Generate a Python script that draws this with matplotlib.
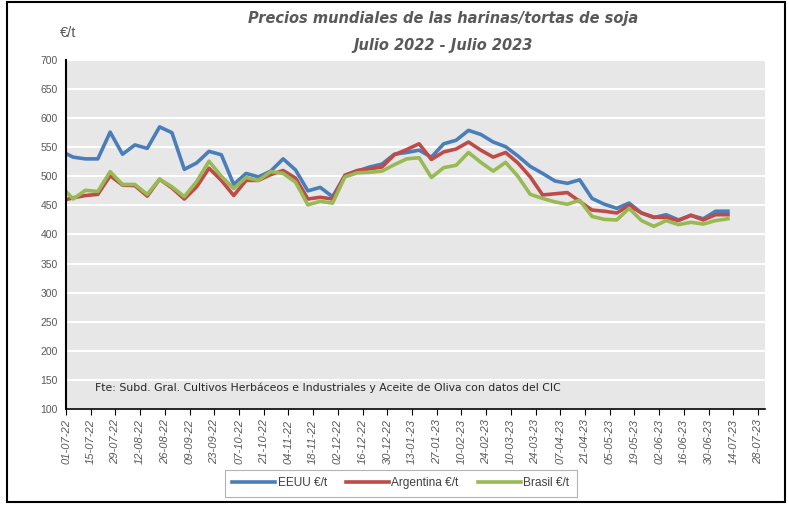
import matplotlib
matplotlib.use("Agg")
import matplotlib.pyplot as plt
import matplotlib.dates as mdates
from matplotlib.patches import Rectangle
import pandas as pd

# weekly quotes: first on 01-07-22, then every Tuesday up to 11-07-23
fechas = [pd.Timestamp("2022-07-01")] + list(pd.date_range("2022-07-05", periods=54, freq="7D"))

eeuu = [539, 533, 530, 530, 576, 538, 554, 548, 585, 575,
        512, 523, 543, 537, 486, 505, 499, 509, 530, 511,
        475, 481, 465, 501, 509, 516, 521, 538, 541, 545,
        533, 556, 562, 579, 572, 559, 551, 535, 517, 505,
        492, 488, 494, 462, 452, 445, 454, 437, 429, 434,
        425, 433, 427, 440, 440]
argentina = [460, 463, 467, 469, 501, 485, 484, 466, 495, 480,
             461, 482, 514, 493, 467, 493, 493, 503, 510, 497,
             461, 464, 461, 502, 510, 513, 516, 537, 546, 556,
             529, 542, 547, 559, 545, 533, 541, 523, 499, 468,
             470, 472, 457, 442, 440, 437, 450, 437, 430, 429,
             424, 433, 425, 434, 434]
brasil = [474, 461, 476, 474, 508, 486, 486, 469, 495, 482,
          465, 491, 526, 500, 479, 498, 493, 508, 505, 490,
          451, 457, 454, 499, 506, 507, 509, 520, 530, 532,
          498, 515, 519, 541, 524, 509, 524, 500, 469, 462,
          456, 452, 459, 431, 426, 425, 445, 424, 414, 424,
          417, 421, 418, 424, 427]

ticks_x = pd.date_range("2022-07-01", "2023-07-28", freq="14D")

plt.rcParams["font.family"] = ["Liberation Sans", "DejaVu Sans"]
gris = "#595959"
narrow = ["Liberation Sans Narrow", "DejaVu Sans"]

fig = plt.figure(figsize=(7.89, 5.05), dpi=100)
ax = fig.add_axes([0.0837, 0.1901, 0.8859, 0.6911])
ax.set_facecolor("#E7E7E7")

ax.plot(fechas, eeuu, color="#4A7EBB", lw=2.6, label="EEUU €/t")
ax.plot(fechas, argentina, color="#BE4B48", lw=2.6, label="Argentina €/t")
ax.plot(fechas, brasil, color="#98B954", lw=2.6, label="Brasil €/t")

ax.set_ylim(100, 700)
ax.set_yticks(range(100, 701, 50))
ax.set_xlim(pd.Timestamp("2022-07-01"), pd.Timestamp("2022-07-01") + pd.Timedelta(days=396))
ax.set_xticks(ticks_x)
ax.xaxis.set_major_formatter(mdates.DateFormatter("%d-%m-%y"))
ax.grid(axis="y", color="white", lw=1.5)
ax.set_axisbelow(True)
for s in ["top", "right"]:
    ax.spines[s].set_visible(False)
ax.spines["left"].set_linewidth(1.5)
ax.spines["bottom"].set_linewidth(1.2)
ax.tick_params(axis="y", length=0, labelsize=7.5, labelcolor=gris, pad=6)
ax.tick_params(axis="x", length=4, direction="out", labelsize=8, labelcolor=gris)
for lab in ax.get_xticklabels():
    lab.set_rotation(90)
    lab.set_style("italic")

ax.text(0.0415, 0.06, "Fte: Subd. Gral. Cultivos Herbáceos e Industriales y Aceite de Oliva con datos del CIC",
        transform=ax.transAxes, fontsize=7.8, color="#262626", va="center", family=narrow)

fig.text(0.5615, 0.964, "Precios mundiales de las harinas/tortas de soja", ha="center", va="center",
         fontsize=10.5, style="italic", weight="bold", color=gris, family=narrow)
fig.text(0.5615, 0.909, "Julio 2022 - Julio 2023", ha="center", va="center",
         fontsize=10.5, style="italic", weight="bold", color=gris, family=narrow)
fig.text(0.0862, 0.935, "€/t", ha="center", va="center", fontsize=10.5, color=gris)

leg = fig.legend(loc="center", bbox_to_anchor=(0.508, 0.0426), ncol=3, fontsize=8.6,
                 handlelength=3.6, handletextpad=0.2, columnspacing=1.6,
                 fancybox=False, edgecolor="#A0A0A0", borderpad=0.6)
leg.get_frame().set_linewidth(0.8)
for t in leg.get_texts():
    t.set_color("#404040")

fig.patches.append(Rectangle((0.009, 0.006), 0.986, 0.99, transform=fig.transFigure,
                             fill=False, edgecolor="black", lw=1.5))

plt.savefig("out.png", dpi=100)
